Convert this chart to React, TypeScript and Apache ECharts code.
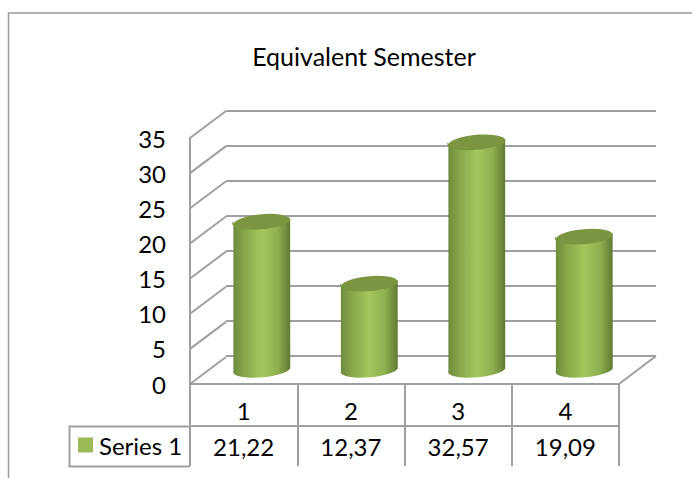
import React, { useEffect, useRef } from "react";
import * as echarts from "echarts";

const categories = ["1", "2", "3", "4"];
const values = [21.22, 12.37, 32.57, 19.09];
const valueLabels = ["21,22", "12,37", "32,57", "19,09"];
const seriesName = "Series 1";
const titleText = "Equivalent Semester";
const ticks = [0, 5, 10, 15, 20, 25, 30, 35];

const GRAY = "#a0a0a0";
const FONT = "Lato, Carlito, sans-serif";
const TEXT = "#000000";

export default function App() {
  const ref = useRef<HTMLDivElement>(null);
  useEffect(() => {
    document.body.style.margin = "0";
    const chart = echarts.init(ref.current!, null, { renderer: "svg" });
    const barGrad = {
      type: "linear", x: 0, y: 0, x2: 1, y2: 0,
      colorStops: [
        { offset: 0, color: "#6e8a3c" },
        { offset: 0.18, color: "#86a548" },
        { offset: 0.5, color: "#a3c75d" },
        { offset: 0.78, color: "#8fb04f" },
        { offset: 1, color: "#617a34" },
      ],
    };
    chart.setOption({
      animation: false,
      backgroundColor: "#ffffff",
      title: {
        text: titleText, left: 359, top: 38, textAlign: "center",
        textStyle: { fontFamily: FONT, fontSize: 25, fontWeight: "normal", color: TEXT },
      },
      legend: {
        left: 78, top: 433, padding: 0, itemWidth: 15, itemHeight: 15, itemGap: 0,
        icon: "rect", data: [seriesName],
        textStyle: { fontFamily: FONT, fontSize: 24, color: TEXT, padding: [0, 0, 0, 1] },
      },
      graphic: [
        { type: "polyline", silent: true, z: 0, shape: { points: [[8.5, 478], [8.5, 13], [692, 13]] }, style: { stroke: "#9a9a9a", lineWidth: 1.5, fill: "none" } },
        { type: "polyline", silent: true, shape: { points: [[190, 426.5], [69.5, 426.5], [69.5, 466.5], [190, 466.5]] }, style: { stroke: GRAY, lineWidth: 2, fill: "none" } },
        { type: "polyline", silent: true, shape: { points: [[619, 384], [656, 356]] }, style: { stroke: GRAY, lineWidth: 2, fill: "none" } },
      ],
      grid: [
        { left: 190, top: 138, width: 429, height: 246 },
        { left: 226, top: 111, width: 430, height: 245 },
        { left: 208, top: 124.5, width: 430, height: 245 },
      ],
      xAxis: [
        {
          gridIndex: 0, type: "category", data: categories, position: "bottom",
          axisLine: { show: true, lineStyle: { color: GRAY, width: 2 } },
          axisTick: { show: true, length: 82, lineStyle: { color: GRAY, width: 2 } },
          axisLabel: { margin: 14, fontFamily: FONT, fontSize: 24, color: TEXT },
        },
        {
          gridIndex: 0, type: "category", data: valueLabels, position: "bottom", offset: 42,
          axisLine: { show: true, lineStyle: { color: GRAY, width: 2 } },
          axisTick: { show: false },
          axisLabel: { margin: 8, fontFamily: FONT, fontSize: 24, color: TEXT },
        },
        { gridIndex: 1, type: "category", data: categories, show: false },
        { gridIndex: 2, type: "category", data: categories, show: false },
      ],
      yAxis: [
        {
          gridIndex: 0, type: "value", min: 0, max: 35, interval: 5,
          axisLine: { show: true, lineStyle: { color: GRAY, width: 2 } },
          axisTick: { show: false }, splitLine: { show: false },
          axisLabel: { margin: 24, fontFamily: FONT, fontSize: 24, color: TEXT, padding: [5, 0, 0, 0] },
        },
        {
          gridIndex: 1, type: "value", min: 0, max: 35, interval: 5,
          axisLine: { show: false }, axisTick: { show: false }, axisLabel: { show: false },
          splitLine: { show: true, lineStyle: { color: GRAY, width: 2 } },
        },
        { gridIndex: 2, type: "value", min: 0, max: 35, interval: 5, show: false, splitLine: { show: false } },
      ],
      series: [
        {
          type: "custom", name: "wall", xAxisIndex: 0, yAxisIndex: 0, silent: true, z: 1,
          data: ticks.map((t) => [0, t]),
          encode: { x: 0, y: 1 },
          renderItem: (_: any, api: any) => {
            const p = api.coord([0, api.value(1)]);
            const x0 = 190;
            return {
              type: "line",
              shape: { x1: x0, y1: p[1], x2: x0 + 36, y2: p[1] - 27 },
              style: { stroke: GRAY, lineWidth: 2 },
            };
          },
        },
        {
          type: "custom", name: seriesName, xAxisIndex: 3, yAxisIndex: 2, z: 5, clip: false,
          itemStyle: { color: "#9bbb59" },
          data: values.map((v, i) => [i, v]),
          encode: { x: 0, y: 1 },
          renderItem: (_: any, api: any) => {
            const top = api.coord([api.value(0), api.value(1)]);
            const base = api.coord([api.value(0), 0]);
            const cx = top[0];
            const w = 28.5, h = 7.5, tilt = 2.6;
            const body = `M${cx - w} ${top[1] + tilt} L${cx - w} ${base[1] + tilt} A${w} ${h} -5 0 0 ${cx + w} ${base[1] - tilt} L${cx + w} ${top[1] - tilt} Z`;
            const lid = `M${cx - w} ${top[1] + tilt} A${w} ${h} -5 0 1 ${cx + w} ${top[1] - tilt} A${w} ${h} -5 0 1 ${cx - w} ${top[1] + tilt} Z`;
            return {
              type: "group",
              children: [
                { type: "path", shape: { pathData: body, layout: "cover", x: cx - w, y: top[1] - tilt, width: 2 * w, height: base[1] - top[1] + tilt + h - 1 }, style: { fill: barGrad } },
                { type: "path", shape: { pathData: lid, layout: "cover", x: cx - w, y: top[1] - h - 0.5, width: 2 * w, height: 2 * h + 1 }, style: { fill: "#7b9541" } },
              ],
            };
          },
        },
      ],
    });
    return () => chart.dispose();
  }, []);
  return <div ref={ref} style={{ position: "absolute", left: 0, top: 0, width: 692, height: 478 }} />;
}
